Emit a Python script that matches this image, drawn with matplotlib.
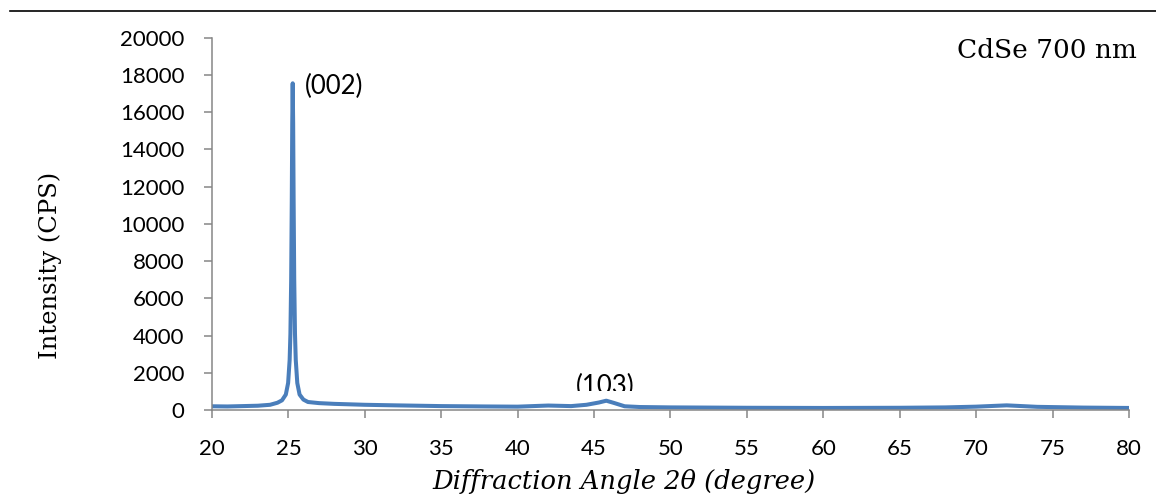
import matplotlib
matplotlib.use("Agg")
import matplotlib.pyplot as plt
from matplotlib.lines import Line2D
from matplotlib.transforms import Bbox

# XRD pattern: 2theta (degree) and intensity (CPS)
two_theta = [20.0, 21.0, 22.0, 23.0, 23.8, 24.28, 24.58, 24.83, 24.98, 25.08,
             25.13, 25.18, 25.22, 25.25, 25.28, 25.31, 25.34, 25.38, 25.43,
             25.48, 25.58, 25.73, 25.98, 26.28, 27.0, 28.0, 30.0, 32.0, 35.0,
             38.0, 40.0, 42.0, 43.5, 44.5, 45.3, 45.8, 46.3, 47.0, 48.0, 50.0,
             55.0, 60.0, 65.0, 68.0, 70.0, 72.0, 74.0, 77.0, 80.0]
intensity = [200, 190, 210, 230, 280, 390, 520, 830, 1450, 2690,
             4080, 7000, 11300, 15400, 17550, 15400, 11300, 7000, 4080,
             2690, 1450, 830, 560, 430, 370, 330, 280, 250, 210,
             190, 180, 240, 210, 280, 400, 500, 380, 200, 160, 140,
             120, 110, 120, 140, 180, 250, 170, 130, 110]

peak_labels = ["(002)", "(103)"]
peak_pos = [(26.05, 17400), (45.72, 1250)]

x_ticks = list(range(20, 81, 5))
y_ticks = list(range(0, 20001, 2000))

fig = plt.figure(figsize=(11.56, 5.04), dpi=100)
ax = fig.add_axes([0.1834, 0.1865, 0.7932, 0.7387])

ax.plot(two_theta, intensity, color="#4a7ebb", lw=2.9, solid_joinstyle="round")

ax.set_xlim(20, 80)
ax.set_ylim(0, 20000)
ax.set_xticks(x_ticks)
ax.set_yticks(y_ticks)
for s in ["top", "right"]:
    ax.spines[s].set_visible(False)
for s in ["left", "bottom"]:
    ax.spines[s].set_color("#868686")
    ax.spines[s].set_linewidth(1.1)
ax.tick_params(axis="both", direction="out", color="#868686", width=1.1,
               length=6, labelsize=16, labelcolor="black")
ax.tick_params(axis="x", pad=15)
ax.tick_params(axis="y", pad=14)
for lab in ax.get_xticklabels() + ax.get_yticklabels():
    lab.set_fontfamily("Lato")

ax.text(peak_pos[0][0], peak_pos[0][1], peak_labels[0], fontsize=18.5,
        family="Lato", ha="left", va="center")
t = ax.text(peak_pos[1][0], peak_pos[1][1], peak_labels[1], fontsize=18.5,
            family="Lato", ha="center", va="center")
# the (103) label is cut off at its bottom in the original
t.set_clip_box(Bbox([[0, 504 - 391], [1156, 504]]))
t.set_clip_on(True)

fig.text(957 / 1156, 1 - 50 / 504, "CdSe 700 nm", fontsize=19,
         family="DejaVu Serif", ha="left", va="center")
fig.text(624 / 1156, 1 - 481 / 504, "Diffraction Angle 2θ (degree)",
         fontsize=18.5, family="DejaVu Serif", style="italic",
         ha="center", va="center")
fig.text(50 / 1156, 1 - 265 / 504, "Intensity (CPS)", fontsize=17.5,
         family="DejaVu Serif", rotation=90, ha="center", va="center")

fig.add_artist(Line2D([10 / 1156, 1.0], [1 - 11 / 504, 1 - 11 / 504],
                      color="black", lw=1.2, transform=fig.transFigure))

fig.savefig("out.png", dpi=100)
